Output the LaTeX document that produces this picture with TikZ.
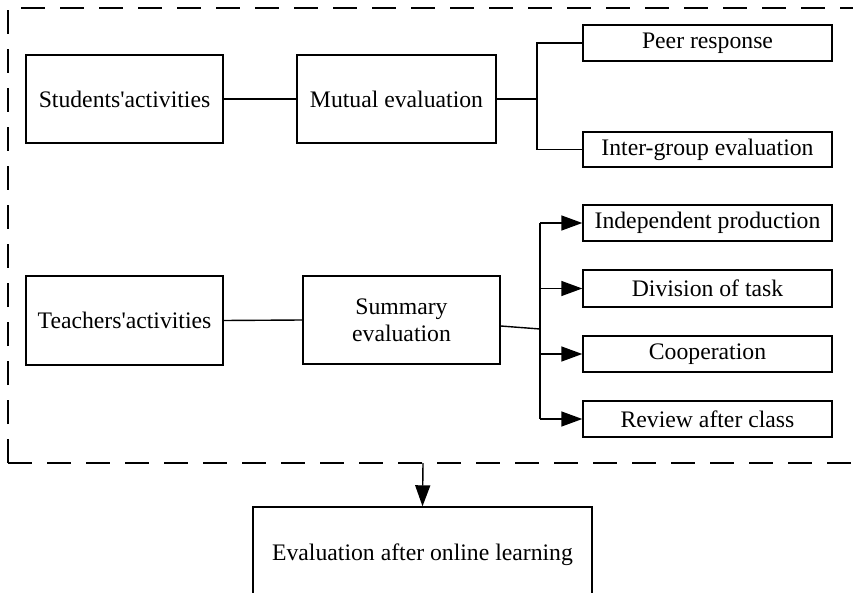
\documentclass[tikz,border=0pt]{standalone}
\usepackage{fontspec}
\newfontfamily\libserif{Liberation Serif}
\usetikzlibrary{arrows.meta,calc}
\begin{document}
\begin{tikzpicture}[x=1pt,y=-1pt,
  box/.style={draw,line width=1.4pt,inner sep=0pt,align=center,
    font=\libserif\fontsize{23.7}{27}\selectfont},
  conn/.style={line width=1.4pt},
  arr/.style={line width=1.4pt,-{Triangle[length=21pt,width=15pt]}},
  frame/.style={line width=1.4pt,dash pattern=on 24pt off 15pt}]
\useasboundingbox (0,0) rectangle (853,593);
\fill[white] (0,0) rectangle (853,593);
% dashed frame
\draw[frame] (8,463) -- (8,8) -- (870,8);
\draw[frame] (8,463) -- (870,463);
% top row
\node[box,minimum width=197pt,minimum height=88pt] (stu) at (124.5,99) {Students'activities};
\node[box,minimum width=199pt,minimum height=88pt] (mut) at (396.5,99) {Mutual evaluation};
\node[box,minimum width=249pt,minimum height=36pt] (peer) at (707.5,43) {Peer response};
\node[box,minimum width=249pt,minimum height=35pt] (inter) at (707.5,149.5) {Inter-group evaluation};
\coordinate (b1) at (537,99);
\draw[conn] (stu) -- (mut);
\draw[conn] (mut.east) -- (b1);
\draw[conn] (peer.west) -| (b1) |- (inter.west);
% bottom row
\node[box,minimum width=197pt,minimum height=89pt] (tea) at (124.5,320.5) {Teachers'activities};
\node[box,minimum width=197pt,minimum height=88pt] (sum) at (401.5,320) {Summary\\evaluation};
\node[box,minimum width=249pt,minimum height=36pt] (ind) at (707.5,223) {Independent production};
\node[box,minimum width=249pt,minimum height=37pt] (div) at (707.5,288.5) {Division of task};
\node[box,minimum width=249pt,minimum height=36pt] (coop) at (707.5,354) {Cooperation};
\node[box,minimum width=249pt,minimum height=36pt] (rev) at (707.5,419) {Review after class};
\draw[conn] (tea.east) -- (sum.west);
\coordinate (b2) at (540,329);
\coordinate (s2) at ($(sum.east)+(0,6)$);
\draw[conn] (s2) -- (b2);
\draw[conn] (540,223) -- (540,419);
\draw[arr] (540,223) -- (ind.west);
\draw[arr] (540,288.5) -- (div.west);
\draw[arr] (540,354) -- (coop.west);
\draw[arr] (540,419) -- (rev.west);
% final
\node[box,minimum width=339pt,minimum height=96pt] (ev) at (422.5,555) {Evaluation after online learning};
\coordinate (fb) at (423,463);
\draw[arr] (fb) -- (ev.north);
\end{tikzpicture}
\end{document}
